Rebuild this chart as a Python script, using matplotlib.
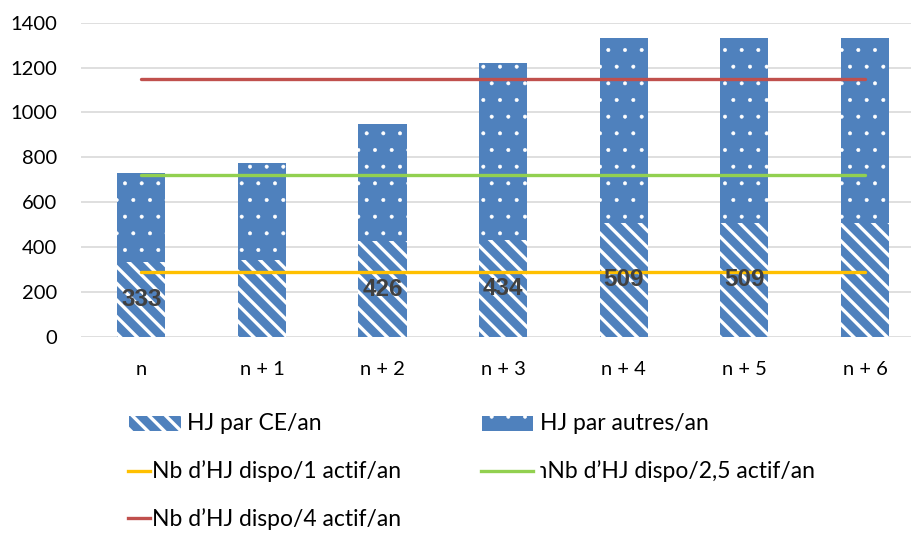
# plot.py
#   HJ (hommes-jours) par an : barres empilees CE / autres
#   et capacite disponible pour 1, 2,5 et 4 actifs

import matplotlib
matplotlib.use('Agg')
from matplotlib import pyplot as plt
from matplotlib.patches import Rectangle
from matplotlib.lines import Line2D

W, H = 912, 535

years = ['n', 'n + 1', 'n + 2', 'n + 3', 'n + 4', 'n + 5', 'n + 6']
hj_ce = [333, 343, 426, 434, 509, 509, 509]
hj_total = [730, 775, 950, 1220, 1330, 1330, 1330]
hj_autres = [t - c for t, c in zip(hj_total, hj_ce)]
ce_labels = ['333', None, '426', '434', '509', '509', None]   # labels visibles

dispo_1 = [290, 290, 290, 290, 290, 290, 290]
dispo_25 = [720, 720, 720, 720, 720, 720, 720]
dispo_4 = [1150, 1150, 1150, 1150, 1150, 1150, 1150]

BLUE = '#4F81BD'
YELLOW = '#FFC000'
GREEN = '#92D050'
RED = '#C0504D'
GRID = '#D9D9D9'
TXT = '#000000'

plt.rcParams['font.family'] = ['Lato', 'DejaVu Sans']


def px(x, y):
    '''pixel (from top-left) -> figure fraction'''
    return x / W, 1 - y / H


def hatch_lw(patch, lw):
    if hasattr(patch, 'set_hatch_linewidth'):
        patch.set_hatch_linewidth(lw)


STRIPES = '\\\\'
DOTS = '.'

fig = plt.figure(figsize=(W / 100, H / 100), dpi=100)
ax = fig.add_axes([81 / W, (H - 337) / H, (W - 81) / W, 314.3 / H])

x = list(range(len(years)))
width = 0.40

bars_ce = ax.bar(x, hj_ce, width=width, color=BLUE, edgecolor='white',
                 linewidth=0, hatch=STRIPES, zorder=2)
bars_au = ax.bar(x, hj_autres, width=width, bottom=hj_ce, color=BLUE,
                 edgecolor='white', linewidth=0, hatch=DOTS, zorder=2)
for b in bars_ce:
    hatch_lw(b, 2.4)
for b in bars_au:
    hatch_lw(b, 0.4)

ax.plot(x, dispo_1, color=YELLOW, lw=2.4, zorder=3, solid_capstyle='round')
ax.plot(x, dispo_25, color=GREEN, lw=2.4, zorder=3, solid_capstyle='round')
ax.plot(x, dispo_4, color=RED, lw=2.4, zorder=3, solid_capstyle='round')

for xi, v, lab in zip(x, hj_ce, ce_labels):
    if lab:
        ax.text(xi, v / 2, lab, ha='center', va='center', fontsize=17.5,
                family='Liberation Sans', fontweight='bold', color='#404040',
                zorder=4)

ax.set_xlim(-0.5, 6.39)
ax.set_ylim(0, 1400)
ax.set_yticks(range(0, 1401, 200))
ax.set_xticks(x)
ax.set_xticklabels(years)
ax.grid(axis='y', color=GRID, lw=1.2, zorder=0)
ax.set_axisbelow(True)
for s in ax.spines.values():
    s.set_visible(False)
ax.tick_params(axis='both', length=0, labelsize=14.5, colors=TXT)
ax.tick_params(axis='y', pad=17)
ax.tick_params(axis='x', pad=17)

# legende (2 colonnes sous le graphique)
def leg_patch(x0, x1, yc, hatch, lw):
    x_, y_ = px(x0, yc + 7.5)
    w_ = (x1 - x0) / W
    h_ = 15 / H
    r = Rectangle((x_, y_), w_, h_, transform=fig.transFigure,
                  facecolor=BLUE, edgecolor='white', linewidth=0, hatch=hatch)
    hatch_lw(r, lw)
    fig.add_artist(r)


def leg_line(x0, x1, yc, color):
    (a, b), (c, d) = px(x0, yc), px(x1, yc)
    fig.add_artist(Line2D([a, c], [b, d], transform=fig.transFigure,
                          color=color, lw=2.4))


def leg_text(x0, yb, s):
    fig.text(*px(x0, yb), s, ha='left', va='baseline', fontsize=16.5, color=TXT)


leg_patch(129, 181, 423, STRIPES, 2.4)
leg_text(187, 430.5, 'HJ par CE/an')
leg_patch(482, 533, 423, DOTS, 0.4)
leg_text(540, 430.5, 'HJ par autres/an')

leg_line(128, 150, 470.5, YELLOW)
leg_text(152, 478, 'Nb d\u2019HJ dispo/1 actif/an')
leg_line(481, 533, 470.5, GREEN)
leg_text(540, 478, '\u027fNb d\u2019HJ dispo/2,5 actif/an')

leg_line(128, 150, 518, RED)
leg_text(152, 526, 'Nb d\u2019HJ dispo/4 actif/an')

plt.savefig('out.png', format='png', dpi=100)
